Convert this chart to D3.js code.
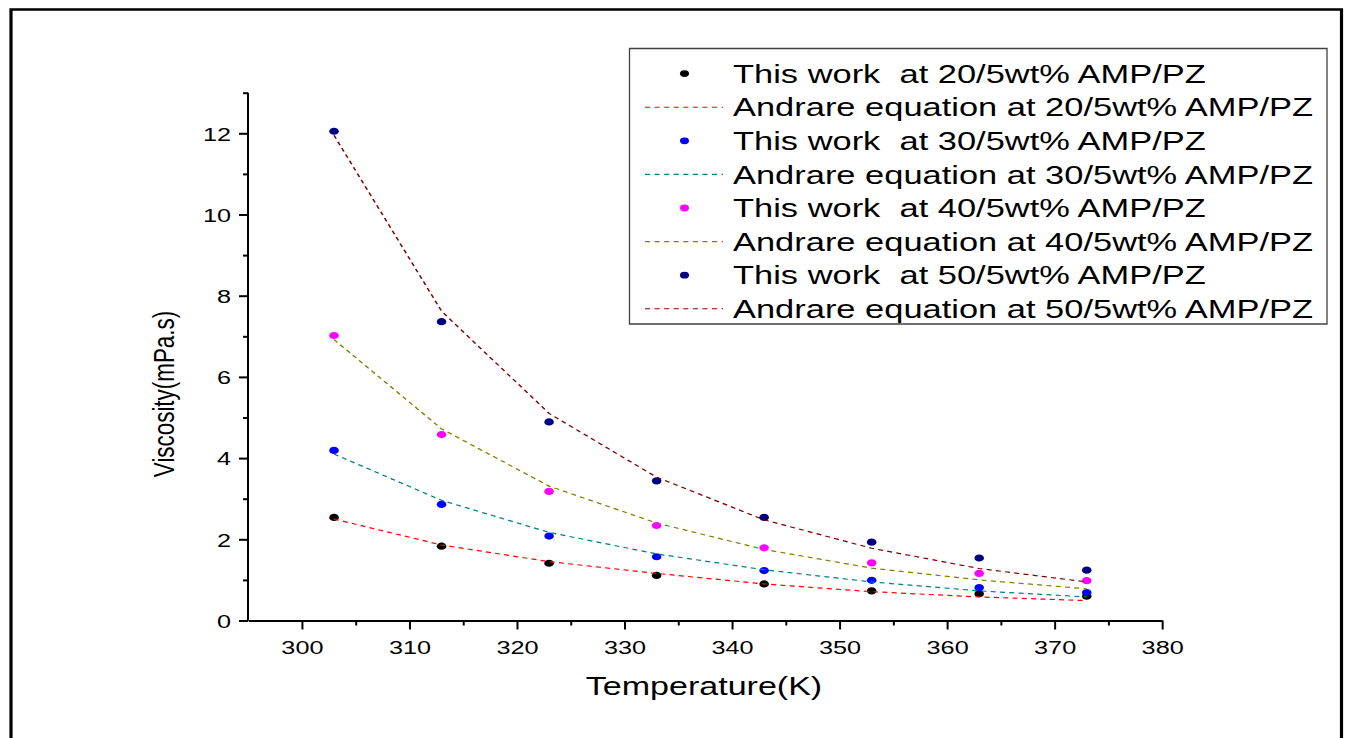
<!DOCTYPE html>
<html>
<head>
<meta charset="utf-8">
<script src="https://cdn.jsdelivr.net/npm/d3@7"></script>
<style>
  html, body { margin: 0; padding: 0; background: #fff; overflow: hidden; }
  svg { display: block; font-family: "Liberation Sans", Arial, sans-serif; }
  text { white-space: pre; }
</style>
</head>
<body>
<svg id="chart"></svg>
<script>
// Temperatures (K) and viscosities (mPa.s) of AMP/PZ blends
const temperatures = [303, 313, 323, 333, 343, 353, 363, 373];

const measured20 = [2.54, 1.83, 1.41, 1.11, 0.90, 0.73, 0.66, 0.60];
const measured30 = [4.19, 2.86, 2.08, 1.57, 1.23, 0.99, 0.81, 0.69];
const measured40 = [7.02, 4.58, 3.18, 2.34, 1.79, 1.42, 1.16, 0.98];
const measured50 = [12.05, 7.36, 4.89, 3.44, 2.54, 1.93, 1.54, 1.24];

const andrade20 = [2.50, 1.86, 1.45, 1.16, 0.90, 0.71, 0.58, 0.49];
const andrade30 = [4.10, 2.96, 2.17, 1.64, 1.25, 0.95, 0.73, 0.58];
const andrade40 = [6.92, 4.72, 3.31, 2.40, 1.75, 1.29, 1.00, 0.78];
const andrade50 = [11.95, 7.62, 5.10, 3.53, 2.48, 1.78, 1.28, 0.95];

const blends = ["20/5", "30/5", "40/5", "50/5"];
const pointColors = ["#000000", "#0000ff", "#ff00ff", "#000080"];
const lineColors = ["#ff0000", "#008080", "#808000", "#800000"];

const xTicks = [300, 310, 320, 330, 340, 350, 360, 370, 380];
const xMinorTicks = [305, 315, 325, 335, 345, 355, 365, 375];
const yTicks = [0, 2, 4, 6, 8, 10, 12];
const yMinorTicks = [1, 3, 5, 7, 9, 11, 13];

const xTitle = "Temperature(K)";
const yTitle = "Viscosity(mPa.s)";

// ---- layout ----
const W = 1349, H = 738;
const SX = 1.33;                 // the drawing is stretched horizontally
const vx = px => px / SX;        // page x -> drawing units

const svg = d3.select("#chart")
  .attr("width", W).attr("height", H)
  .attr("viewBox", `0 0 ${W / SX} ${H}`)
  .attr("preserveAspectRatio", "none");

// outer frame (open at the bottom)
svg.append("path")
  .attr("d", `M${vx(11)},${H + 5} L${vx(11)},${9.5} L${vx(1341.5)},${9.5} L${vx(1341.5)},${H + 5}`)
  .attr("fill", "none").attr("stroke", "#000").attr("stroke-width", 2.4);

const x = d3.scaleLinear().domain([295, 380]).range([vx(248), vx(1162)]);
const y = d3.scaleLinear().domain([0, 13]).range([620.5, 92.7]);

const axisStroke = sel => {
  sel.selectAll("path, line").attr("stroke", "#000").attr("stroke-width", 2)
    .attr("vector-effect", "non-scaling-stroke");
};

// x axis: minor then major
svg.append("g").attr("transform", `translate(0,${y(0)})`)
  .call(d3.axisBottom(x).tickValues(xMinorTicks).tickFormat(() => "").tickSize(5).tickSizeOuter(0))
  .call(axisStroke).call(g => g.select(".domain").remove());
const gx = svg.append("g").attr("transform", `translate(0,${y(0)})`)
  .call(d3.axisBottom(x).tickValues(xTicks).tickFormat(d3.format("d")).tickSize(9).tickSizeOuter(0))
  .call(axisStroke);
gx.selectAll("text")
  .attr("y", 34).attr("dy", null)
  .attr("font-size", 19).attr("fill", "#000")
  .attr("font-family", "Liberation Sans, Arial, sans-serif");

// y axis: minor then major
svg.append("g").attr("transform", `translate(${x(295)},0)`)
  .call(d3.axisLeft(y).tickValues(yMinorTicks).tickFormat(() => "").tickSize(vx(5)).tickSizeOuter(0))
  .call(axisStroke).call(g => g.select(".domain").remove());
const gy = svg.append("g").attr("transform", `translate(${x(295)},0)`)
  .call(d3.axisLeft(y).tickValues(yTicks).tickFormat(d3.format("d")).tickSize(vx(9)).tickSizeOuter(0))
  .call(axisStroke);
gy.select(".domain").attr("d", `M0,${y(0)}V${y(13)}`);
gy.selectAll("text")
  .attr("x", -vx(17)).attr("dy", "0.36em")
  .attr("font-size", 19).attr("fill", "#000")
  .attr("font-family", "Liberation Sans, Arial, sans-serif");

// axis titles
svg.append("text")
  .attr("x", vx(704)).attr("y", 695)
  .attr("text-anchor", "middle").attr("font-size", 25.6).attr("fill", "#000")
  .text(xTitle);
svg.append("text")
  .attr("transform", `translate(${vx(164)},${394}) rotate(-90)`)
  .attr("text-anchor", "middle").attr("dy", "0.35em")
  .attr("font-size", 22.4).attr("fill", "#000")
  .text(yTitle);

// ---- series ----
const measured = [measured20, measured30, measured40, measured50];
const andrade = [andrade20, andrade30, andrade40, andrade50];
const line = d3.line().x(d => x(d[0])).y(d => y(d[1]));

blends.forEach((b, i) => {
  svg.append("g").selectAll("circle")
    .data(d3.zip(temperatures, measured[i]))
    .join("circle")
    .attr("cx", d => x(d[0])).attr("cy", d => y(d[1]))
    .attr("r", 3.6).attr("fill", pointColors[i]);
  svg.append("path")
    .datum(d3.zip(temperatures, andrade[i]))
    .attr("d", line)
    .attr("fill", "none").attr("stroke", lineColors[i])
    .attr("stroke-width", 1.2).attr("stroke-dasharray", "3.8,3.2");
});

// ---- legend ----
const legendItems = [];
blends.forEach((b, i) => {
  legendItems.push({ kind: "point", color: pointColors[i], label: `This work  at ${b}wt% AMP/PZ` });
  legendItems.push({ kind: "line", color: lineColors[i], label: `Andrare equation at ${b}wt% AMP/PZ` });
});

svg.append("rect")
  .attr("x", vx(629.5)).attr("y", 48.5)
  .attr("width", vx(1327) - vx(629.5)).attr("height", 275.5)
  .attr("fill", "#fff").attr("stroke", "#404040").attr("stroke-width", 1.3)
  .attr("vector-effect", "non-scaling-stroke");

const legendFont = 25.9;
const rows = svg.append("g").selectAll("g")
  .data(legendItems).join("g")
  .attr("transform", (d, i) => `translate(0,${73.6 + i * 33.6})`);

rows.filter(d => d.kind === "point").append("circle")
  .attr("cx", vx(684.5)).attr("cy", 0).attr("r", 3.4)
  .attr("fill", d => d.color);
rows.filter(d => d.kind === "line").append("line")
  .attr("x1", vx(645)).attr("x2", vx(723)).attr("y1", 0).attr("y2", 0)
  .attr("stroke", d => d.color).attr("stroke-width", 1.1)
  .attr("stroke-dasharray", "3.8,3.4");
rows.append("text")
  .attr("x", vx(733)).attr("y", legendFont * 0.716 / 2)
  .attr("font-size", legendFont).attr("fill", "#000")
  .text(d => d.label);
</script>
</body>
</html>
